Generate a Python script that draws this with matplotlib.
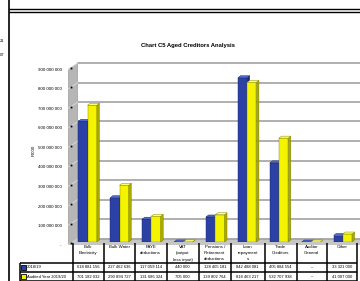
import matplotlib
matplotlib.use('Agg')
import matplotlib.pyplot as plt
from matplotlib.patches import Polygon, Rectangle

plt.rcParams['font.family'] = ['Liberation Sans', 'DejaVu Sans']

# ---------------- data ----------------
title = "Chart C5 Aged Creditors Analysis"
categories = ["Bulk\nElectricity", "Bulk Water", "PAYE\ndeductions",
              "VAT\n(output\nless input)", "Pensions /\nRetirement\ndeductions",
              "Loan\nrepayment\ns", "Trade\nCreditors", "Auditor\nGeneral", "Other"]
series_names = ["2018/19", "Audited Year 2019/20"]
values_1819 = [618881156, 227462636, 117059114, 440000, 128405181,
               842488081, 405884554, 0, 33321000]
values_1920 = [701182032, 290894727, 131686324, 705000, 139802764,
               818463217, 532707938, 0, 41007000]
y_ticks = [0, 100e6, 200e6, 300e6, 400e6, 500e6, 600e6, 700e6, 800e6, 900e6]
y_tick_labels = ["-", "100 000 000", "200 000 000", "300 000 000", "400 000 000",
                 "500 000 000", "600 000 000", "700 000 000", "800 000 000",
                 "900 000 000"]
y_label = "R'000"
side_labels = ["21", "07"]

# ---------------- styles ----------------
front_cols = ['#2c41a6', '#f4f400']
side_cols = ['#1b2a72', '#a9a900']
top_cols = ['#5068c8', '#ffff70']
edge_cols = ['#16225e', '#7c7c00']

W, H = 360, 281
fig = plt.figure(figsize=(W / 100, H / 100), dpi=100)


def box(x0, y0, x1, y1, z):
    ax = fig.add_axes([x0 / W, 1 - y1 / H, (x1 - x0) / W, (y1 - y0) / H])
    ax.set_zorder(z)
    ax.patch.set_visible(False)
    return ax


PX_PER_UNIT = 19.5 / 100e6
FRONT0, BACK0, BAR0, TOP = 245.0, 238.5, 242.0, 63.0
WALL_L, WALL_R = 68.0, 78.0
CAT0, CATW = 88.3, 31.9

# background overlay (pixel coords)
bg = box(0, 0, W, H, 0)
bg.set_xlim(0, W); bg.set_ylim(H, 0); bg.axis('off')
# foreground overlay
fg = box(0, 0, W, H, 10)
fg.set_xlim(0, W); fg.set_ylim(H, 0); fg.axis('off')

# frame of the surrounding document
fg.plot([9, 9], [0, H], color='black', lw=1.2, solid_capstyle='butt')
fg.plot([9, W], [9.3, 9.3], color='black', lw=1.0, solid_capstyle='butt')
fg.plot([9, W], [11.8, 11.8], color='black', lw=1.0, solid_capstyle='butt')
for t, yy in zip(side_labels, [41.5, 55]):
    fg.text(4.5, yy, t, fontsize=3.0, ha='right', va='center')

# floor
bg.add_patch(Polygon([(WALL_L, FRONT0), (WALL_R, BACK0), (W, BACK0), (W, FRONT0)],
                     closed=True, facecolor='#c6c6c6', edgecolor='none'))

# back wall grid
grid_ax = box(WALL_R, TOP, W, BACK0, 1)
grid_ax.set_xlim(0, 1); grid_ax.set_ylim(0, y_ticks[-1]); grid_ax.axis('off')
for v in y_ticks:
    grid_ax.axhline(v, color='#a2a2a2', lw=1.2, clip_on=False)

# left wall with tick labels
wall = box(WALL_L, TOP, WALL_R, FRONT0, 2)
shift = (FRONT0 - BACK0) / PX_PER_UNIT
wall.set_xlim(0, 1); wall.set_ylim(0, (FRONT0 - TOP) / PX_PER_UNIT)
wall.add_patch(Polygon([(0, 0), (1, shift), (1, y_ticks[-1] + shift), (0, y_ticks[-1])],
                       closed=True, facecolor='#b6b6b6', edgecolor='#9a9a9a', lw=0.4))
for v in y_ticks:
    wall.plot([0, 1], [v, v + shift], color='#dcdcdc', lw=0.6)
    wall.plot([0.3], [v + 0.3 * shift], marker='s', ms=1.3, color='black', mew=0)
for s in wall.spines.values():
    s.set_visible(False)
wall.set_xticks([])
wall.set_yticks(y_ticks, y_tick_labels)
wall.tick_params(axis='y', length=0, pad=4.5, labelsize=3.2)
fig.text(34 / W, 1 - 150 / H, y_label, rotation=90, fontsize=3.2, ha='center', va='center')

# bars
bax = box(CAT0 - CATW / 2, TOP, W, BAR0, 5)
bax.set_xlim(-0.5, -0.5 + (W - (CAT0 - CATW / 2)) / CATW)
bax.set_ylim(0, (BAR0 - TOP) / PX_PER_UNIT)
bax.axis('off')
dx = 2.5 / CATW
dy = 2.0 / PX_PER_UNIT
bw = 0.29
offsets = [-0.31, -0.02]
for i in range(len(categories)):
    for s, vals in enumerate([values_1819, values_1920]):
        v = vals[i]
        left = i + offsets[s]
        right = left + bw
        bax.bar(left, v, width=bw, align='edge', color=front_cols[s],
                edgecolor=edge_cols[s], lw=0.3, zorder=2 + s)
        bax.add_patch(Polygon([(right, 0), (right + dx, dy), (right + dx, v + dy), (right, v)],
                              closed=True, facecolor=side_cols[s], edgecolor=edge_cols[s],
                              lw=0.3, zorder=2 + s))
        bax.add_patch(Polygon([(left, v), (left + dx, v + dy), (right + dx, v + dy), (right, v)],
                              closed=True, facecolor=top_cols[s], edgecolor=edge_cols[s],
                              lw=0.3, zorder=2 + s))

# title
fig.text(188 / W, 1 - 45 / H, title, fontsize=4.2, fontweight='bold', ha='center', va='center')

# ---------------- data table ----------------
col_x = [73, 103.5, 135, 166.5, 198.5, 231, 264.5, 296.5, 327, 357]
LABEL_L = 19.5
HDR_TOP, ROW1_TOP, ROW2_TOP, TBL_BOT = 243, 263, 272, 281
LW = 1.1

clip = Rectangle((0, HDR_TOP), W, ROW1_TOP - HDR_TOP - 0.5, transform=fg.transData)
for i, lab in enumerate(categories):
    cx = (col_x[i] + col_x[i + 1]) / 2
    for k, line in enumerate(lab.split('\n')):
        t = fg.text(cx, 246.5 + 6.5 * k, line, fontsize=3.2, ha='center', va='center')
        t.set_clip_path(clip)

def fmt(v):
    return '–' if v == 0 else f"{v:,.0f}".replace(',', ' ')

for r, (vals, name) in enumerate(zip([values_1819, values_1920], series_names)):
    yc = [ROW1_TOP, ROW2_TOP][r] + 4.5
    for i, v in enumerate(vals):
        cx = (col_x[i] + col_x[i + 1]) / 2
        fg.text(cx, yc, fmt(v), fontsize=3.0, ha='center', va='center')
    fg.add_patch(Rectangle((20.5, yc - 2.6), 5.2, 5.2, facecolor=front_cols[r],
                           edgecolor='black', lw=0.6))
    fg.text(27, yc, name, fontsize=3.0, ha='left', va='center')

for x in col_x:
    fg.plot([x, x], [HDR_TOP, TBL_BOT], color='black', lw=LW, solid_capstyle='butt')
fg.plot([LABEL_L, LABEL_L], [ROW1_TOP, TBL_BOT], color='black', lw=LW, solid_capstyle='butt')
for y in [ROW1_TOP, ROW2_TOP, TBL_BOT - 0.5]:
    fg.plot([LABEL_L, col_x[-1]], [y, y], color='black', lw=LW, solid_capstyle='butt')

fig.savefig('out.png', dpi=100)
